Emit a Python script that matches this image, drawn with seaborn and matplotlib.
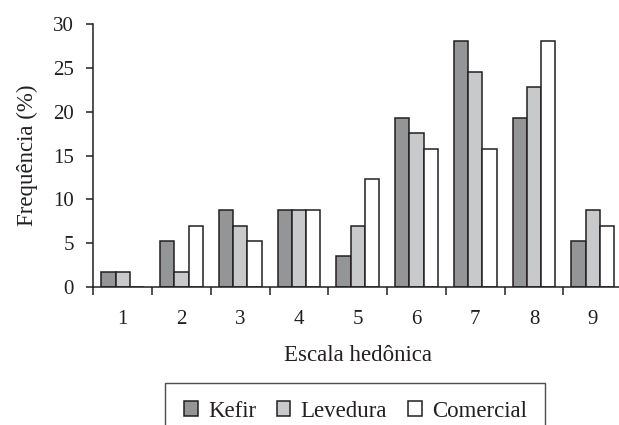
import seaborn as sns
import matplotlib.pyplot as plt
import pandas as pd

# hedonic scale frequencies (%) per sample
escala = ['1', '2', '3', '4', '5', '6', '7', '8', '9']
kefir = [1.75, 5.26, 8.77, 8.77, 3.51, 19.30, 28.07, 19.30, 5.26]
levedura = [1.75, 1.75, 7.02, 8.77, 7.02, 17.54, 24.56, 22.81, 8.77]
comercial = [0.0, 7.02, 5.26, 8.77, 12.28, 15.79, 15.79, 28.07, 7.02]
amostras = ['Kefir', 'Levedura', 'Comercial']
cores = ['#939598', '#c8c9cb', '#ffffff']

df = pd.DataFrame({
    'escala': escala * 3,
    'freq': kefir + levedura + comercial,
    'amostra': [a for a in amostras for _ in escala],
})

sns.set_style('ticks')
plt.rcParams['font.family'] = ['Liberation Serif', 'DejaVu Serif']
plt.rcParams['text.color'] = '#231f20'
plt.rcParams['xtick.color'] = '#231f20'
plt.rcParams['ytick.color'] = '#231f20'

fig = plt.figure(figsize=(6.19, 4.25), dpi=100)
ax = fig.add_axes([0.151, 0.324, 0.854, 0.62])

sns.barplot(data=df, x='escala', y='freq', hue='amostra', palette=cores,
            edgecolor='#231f20', linewidth=1.1, width=0.73, ax=ax)

ax.set_ylim(0, 30)
ax.set_xlim(-0.5, 8.5)
ax.set_yticks(range(0, 31, 5))
ax.set_xlabel('Escala hedônica', fontsize=16.5, labelpad=12, color='#231f20')
ax.set_ylabel('Frequência (%)', fontsize=16.5, labelpad=11, color='#231f20')

# tick marks between the categories
ax.set_xticks([i - 0.5 for i in range(10)], minor=True)
ax.tick_params(axis='x', which='major', length=0, pad=16, labelsize=15)
ax.tick_params(axis='x', which='minor', length=5.5, width=1.1, direction='out')
ax.tick_params(axis='y', length=5, width=1.1, labelsize=15, pad=9)

sns.despine(ax=ax, top=True, right=True)
for s in ['left', 'bottom']:
    ax.spines[s].set_linewidth(1.1)
    ax.spines[s].set_color('#231f20')

handles, labels = ax.get_legend_handles_labels()
ax.get_legend().remove()
leg = fig.legend(handles, labels, loc='upper center', bbox_to_anchor=(0.574, 0.1),
                 ncol=3, frameon=True, fancybox=False, fontsize=16.5,
                 handlelength=0.6, handleheight=0.6, handletextpad=0.45,
                 columnspacing=0.9, borderpad=0.8, borderaxespad=0)
leg.get_frame().set_edgecolor('#231f20')
leg.get_frame().set_linewidth(1.0)

fig.savefig('out.png', dpi=100)
